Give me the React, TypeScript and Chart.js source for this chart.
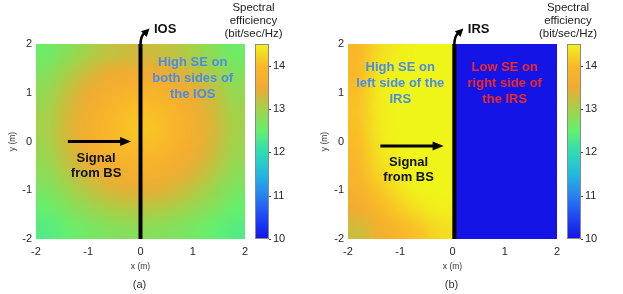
import React, { useEffect, useRef } from "react";
import { Chart, registerables } from "chart.js";
Chart.register(...registerables);

const FONT = '"Liberation Sans", Arial, Helvetica, sans-serif';

// axis ticks
const xTicks = [-2, -1, 0, 1, 2];
const yTicks = [-2, -1, 0, 1, 2];
const cbTicks = [10, 11, 12, 13, 14];

// heat-map cell centres (m)
const xCenters = [-1.8, -1.4, -1.0, -0.6, -0.2, 0.2, 0.6, 1.0, 1.4, 1.8];
const yCenters = [1.8, 1.4, 1.0, 0.6, 0.2, -0.2, -0.6, -1.0, -1.4, -1.8];
const xCentersLeft = [-1.8, -1.4, -1.0, -0.6, -0.2];
const xCentersRight = [0.2, 0.6, 1.0, 1.4, 1.8];

// (a) spectral efficiency with IOS (bit/sec/Hz), rows top -> bottom
const seIOS = [
  [12.58, 12.78, 13.0, 13.17, 13.27, 13.27, 13.17, 13.0, 12.78, 12.58],
  [12.74, 13.02, 13.28, 13.47, 13.57, 13.57, 13.47, 13.28, 13.02, 12.74],
  [12.87, 13.2, 13.48, 13.7, 13.83, 13.83, 13.7, 13.48, 13.2, 12.87],
  [12.97, 13.31, 13.62, 13.87, 14.05, 14.05, 13.87, 13.62, 13.31, 12.97],
  [12.99, 13.33, 13.65, 13.9, 14.1, 14.1, 13.9, 13.65, 13.33, 12.99],
  [12.93, 13.27, 13.57, 13.8, 13.97, 13.97, 13.8, 13.57, 13.27, 12.93],
  [12.82, 13.12, 13.39, 13.59, 13.72, 13.72, 13.59, 13.39, 13.12, 12.82],
  [12.68, 12.91, 13.14, 13.33, 13.43, 13.43, 13.33, 13.14, 12.91, 12.68],
  [12.5, 12.7, 12.86, 13.01, 13.09, 13.09, 13.01, 12.86, 12.7, 12.5],
  [12.36, 12.5, 12.63, 12.73, 12.78, 12.78, 12.73, 12.63, 12.5, 12.36],
];

// (b) spectral efficiency with IRS, left half (x < 0)
const seIRSLeft = [
  [13.95, 14.3, 14.45, 14.5, 14.5],
  [14.0, 14.38, 14.5, 14.5, 14.5],
  [14.05, 14.42, 14.5, 14.5, 14.5],
  [14.08, 14.42, 14.5, 14.5, 14.5],
  [14.05, 14.4, 14.5, 14.5, 14.5],
  [14.0, 14.35, 14.48, 14.5, 14.5],
  [13.9, 14.25, 14.45, 14.5, 14.5],
  [13.75, 14.1, 14.35, 14.48, 14.5],
  [13.55, 13.9, 14.15, 14.35, 14.45],
  [13.25, 13.65, 13.9, 14.1, 14.3],
];
// (b) right half (x > 0)
const seIRSRight = [
  [10, 10, 10, 10, 10],
  [10, 10, 10, 10, 10],
  [10, 10, 10, 10, 10],
  [10, 10, 10, 10, 10],
  [10, 10, 10, 10, 10],
  [10, 10, 10, 10, 10],
  [10, 10, 10, 10, 10],
  [10, 10, 10, 10, 10],
  [10, 10, 10, 10, 10],
  [10, 10, 10, 10, 10],
];

const CB_MIN = 10;
const CB_MAX = 14.5;

// colormap stops (value, r, g, b)
const cmapStops: [number, number, number, number][] = [
  [10.0, 20, 20, 230],
  [10.5, 30, 70, 245],
  [11.0, 40, 130, 240],
  [11.5, 35, 185, 225],
  [12.0, 45, 220, 180],
  [12.5, 100, 240, 110],
  [13.0, 165, 208, 72],
  [13.5, 240, 170, 50],
  [14.0, 250, 185, 40],
  [14.5, 240, 245, 25],
];

function cmap(v: number): [number, number, number] {
  const s = cmapStops;
  if (v <= s[0][0]) return [s[0][1], s[0][2], s[0][3]];
  for (let i = 1; i < s.length; i++) {
    if (v <= s[i][0]) {
      const t = (v - s[i - 1][0]) / (s[i][0] - s[i - 1][0]);
      return [
        Math.round(s[i - 1][1] + t * (s[i][1] - s[i - 1][1])),
        Math.round(s[i - 1][2] + t * (s[i][2] - s[i - 1][2])),
        Math.round(s[i - 1][3] + t * (s[i][3] - s[i - 1][3])),
      ];
    }
  }
  const l = s[s.length - 1];
  return [l[1], l[2], l[3]];
}

type Heat = { xs: number[]; ys: number[]; values: number[][] };

function heatDataset(h: Heat) {
  const pts: { x: number; y: number }[] = [];
  h.ys.forEach((yy) => h.xs.forEach((xx) => pts.push({ x: xx, y: yy })));
  return { data: pts, pointRadius: 0, showLine: false, heat: h } as any;
}

const heatmapPlugin = {
  id: "heatmap",
  beforeDatasetsDraw(chart: any) {
    const { ctx, scales } = chart;
    const xs = scales.x;
    const ys = scales.y;
    chart.data.datasets.forEach((ds: any) => {
      const h: Heat = ds.heat;
      if (!h) return;
      const nx = h.xs.length;
      const ny = h.ys.length;
      const off = document.createElement("canvas");
      off.width = nx + 2;
      off.height = ny + 2;
      const octx = off.getContext("2d")!;
      const img = octx.createImageData(nx + 2, ny + 2);
      for (let j = 0; j < ny + 2; j++) {
        for (let i = 0; i < nx + 2; i++) {
          const jj = Math.min(ny - 1, Math.max(0, j - 1));
          const ii = Math.min(nx - 1, Math.max(0, i - 1));
          const [r, g, b] = cmap(h.values[jj][ii]);
          const k = (j * (nx + 2) + i) * 4;
          img.data[k] = r;
          img.data[k + 1] = g;
          img.data[k + 2] = b;
          img.data[k + 3] = 255;
        }
      }
      octx.putImageData(img, 0, 0);
      const hw = Math.abs(h.xs[1] - h.xs[0]) / 2;
      const hh = Math.abs(h.ys[1] - h.ys[0]) / 2;
      const x0 = xs.getPixelForValue(h.xs[0] - hw);
      const x1 = xs.getPixelForValue(h.xs[nx - 1] + hw);
      const y0 = ys.getPixelForValue(h.ys[0] + hh);
      const y1 = ys.getPixelForValue(h.ys[ny - 1] - hh);
      ctx.save();
      ctx.imageSmoothingEnabled = true;
      ctx.imageSmoothingQuality = "high";
      ctx.drawImage(off, 1, 1, nx, ny, x0, y0, x1 - x0, y1 - y0);
      ctx.restore();
    });
  },
};

function arrowHead(ctx: CanvasRenderingContext2D, tx: number, ty: number, ang: number, len: number, wid: number) {
  ctx.beginPath();
  ctx.moveTo(tx, ty);
  ctx.lineTo(tx - len * Math.cos(ang) + (wid / 2) * Math.sin(ang), ty - len * Math.sin(ang) - (wid / 2) * Math.cos(ang));
  ctx.lineTo(tx - len * Math.cos(ang) - (wid / 2) * Math.sin(ang), ty - len * Math.sin(ang) + (wid / 2) * Math.cos(ang));
  ctx.closePath();
  ctx.fill();
}

type PanelCfg = {
  surfaceX: number;
  surfaceLabel: string;
  arrowFrom: [number, number];
  arrowTo: [number, number];
  signalAt: [number, number];
  notes: { x: number; y: number; lines: string[]; color: string }[];
  caption: string;
  cbTitleOffset: number;
};

const decorPlugin = {
  id: "decor",
  afterDatasetsDraw(chart: any) {
    const cfg: PanelCfg = chart.options.plugins.decor;
    const { ctx, scales, chartArea } = chart;
    const xs = scales.x;
    const ys = scales.y;
    const cb = scales.cb;

    // colorbar
    const bx0 = cb.left + 10;
    const bw = 14;
    const by0 = cb.getPixelForValue(CB_MAX);
    const by1 = cb.getPixelForValue(CB_MIN);
    const grad = ctx.createLinearGradient(0, by1, 0, by0);
    cmapStops.forEach((s) => {
      grad.addColorStop((s[0] - CB_MIN) / (CB_MAX - CB_MIN), `rgb(${s[1]},${s[2]},${s[3]})`);
    });
    ctx.save();
    ctx.fillStyle = grad;
    ctx.fillRect(bx0, by0, bw, by1 - by0);
    ctx.strokeStyle = "#8a8a8a";
    ctx.lineWidth = 1;
    ctx.strokeRect(bx0 + 0.5, by0 + 0.5, bw - 1, by1 - by0 - 1);
    ctx.strokeStyle = "#444";
    cbTicks.forEach((t) => {
      const py = Math.round(cb.getPixelForValue(t)) + 0.5;
      ctx.beginPath();
      ctx.moveTo(bx0 + bw, py);
      ctx.lineTo(bx0 + bw + 2, py);
      ctx.stroke();
    });
    ctx.restore();

    // surface line (IOS / IRS)
    const sx = xs.getPixelForValue(cfg.surfaceX);
    const top = ys.getPixelForValue(2);
    const bot = ys.getPixelForValue(-2);
    ctx.save();
    ctx.strokeStyle = "#000";
    ctx.fillStyle = "#000";
    ctx.lineWidth = 4;
    ctx.beginPath();
    ctx.moveTo(sx, bot);
    ctx.lineTo(sx, top);
    ctx.stroke();
    ctx.lineWidth = 2.5;
    ctx.beginPath();
    ctx.moveTo(sx, top + 1);
    ctx.quadraticCurveTo(sx, top - 8, sx + 4, top - 11);
    ctx.stroke();
    arrowHead(ctx, sx + 9, top - 15.5, -Math.PI / 4, 8, 8);

    // signal arrow
    const ax0 = xs.getPixelForValue(cfg.arrowFrom[0]);
    const ay0 = ys.getPixelForValue(cfg.arrowFrom[1]);
    const ax1 = xs.getPixelForValue(cfg.arrowTo[0]);
    const ay1 = ys.getPixelForValue(cfg.arrowTo[1]);
    ctx.lineWidth = 3;
    ctx.beginPath();
    ctx.moveTo(ax0, ay0);
    ctx.lineTo(ax1 - 9, ay1);
    ctx.stroke();
    arrowHead(ctx, ax1, ay1, 0, 11, 9);
    ctx.restore();

    // texts
    ctx.save();
    ctx.textBaseline = "middle";
    ctx.font = `bold 13px ${FONT}`;
    ctx.fillStyle = "#111";
    ctx.textAlign = "left";
    ctx.fillText(cfg.surfaceLabel, sx + 13.5, top - 14.5);
    ctx.textAlign = "center";
    const tx = xs.getPixelForValue(cfg.signalAt[0]);
    const ty = ys.getPixelForValue(cfg.signalAt[1]);
    ctx.fillText("Signal", tx, ty);
    ctx.fillText("from BS", tx, ty + 15.5);
    cfg.notes.forEach((n) => {
      ctx.fillStyle = n.color;
      const nx = xs.getPixelForValue(n.x);
      const ny = ys.getPixelForValue(n.y);
      n.lines.forEach((l, i) => ctx.fillText(l, nx, ny + i * 16));
    });

    // colorbar title
    ctx.font = `11.5px ${FONT}`;
    ctx.fillStyle = "#222";
    const cx = cb.left + cfg.cbTitleOffset;
    ["Spectral", "efficiency", "(bit/sec/Hz)"].forEach((l, i) => ctx.fillText(l, cx, chartArea.top - 36.5 + i * 13.3));

    // caption
    ctx.font = `11px ${FONT}`;
    ctx.fillStyle = "#333";
    ctx.fillText(cfg.caption, (chartArea.left + chartArea.right) / 2 - 1, chartArea.bottom + 45.5);
    ctx.restore();
  },
};

function makeConfig(datasets: any[], cfg: PanelCfg): any {
  const tickFont = { size: 11, family: FONT };
  return {
    type: "scatter",
    data: { datasets },
    plugins: [heatmapPlugin, decorPlugin],
    options: {
      responsive: false,
      animation: false,
      devicePixelRatio: 1,
      layout: { padding: { top: 44, left: 0, right: 0, bottom: 0 } },
      plugins: {
        legend: { display: false },
        tooltip: { enabled: false },
        title: { display: false },
        decor: cfg,
      },
      scales: {
        x: {
          type: "linear",
          position: "bottom",
          min: -2,
          max: 2,
          grid: { display: false, drawTicks: false },
          border: { display: false },
          ticks: { font: tickFont, color: "#262626", padding: 6, maxRotation: 0, autoSkip: false },
          afterBuildTicks: (s: any) => {
            s.ticks = xTicks.map((v) => ({ value: v }));
          },
          afterFit: (s: any) => {
            s.height = 55;
          },
          title: {
            display: true,
            text: "x (m)",
            font: { size: 8.5, family: FONT },
            color: "#333",
            padding: { top: 0, bottom: 22 },
          },
        },
        y: {
          type: "linear",
          position: "left",
          min: -2,
          max: 2,
          grid: { display: false, drawTicks: false },
          border: { display: false },
          ticks: { font: tickFont, color: "#262626", padding: 4, autoSkip: false },
          afterBuildTicks: (s: any) => {
            s.ticks = yTicks.map((v) => ({ value: v }));
          },
          afterFit: (s: any) => {
            s.width = 36;
          },
          title: {
            display: true,
            text: "y (m)",
            font: { size: 8.5, family: FONT },
            color: "#333",
            padding: { top: 8, bottom: 0 },
          },
        },
        cb: {
          type: "linear",
          position: "right",
          min: CB_MIN,
          max: CB_MAX,
          grid: { display: false, drawTicks: false },
          border: { display: false },
          ticks: { font: tickFont, color: "#262626", padding: 28, autoSkip: false },
          afterBuildTicks: (s: any) => {
            s.ticks = cbTicks.map((v) => ({ value: v }));
          },
          afterFit: (s: any) => {
            s.width = 66;
          },
        },
      },
    },
  };
}

const panelA: PanelCfg = {
  surfaceX: 0,
  surfaceLabel: "IOS",
  arrowFrom: [-1.39, 0],
  arrowTo: [-0.18, 0],
  signalAt: [-0.85, -0.34],
  notes: [{ x: 1.0, y: 1.62, lines: ["High SE on", "both sides of", "the IOS"], color: "#4a8de6" }],
  caption: "(a)",
  cbTitleOffset: 8.5,
};

const panelB: PanelCfg = {
  surfaceX: 0.035,
  surfaceLabel: "IRS",
  arrowFrom: [-1.38, -0.09],
  arrowTo: [-0.17, -0.09],
  signalAt: [-0.84, -0.42],
  notes: [
    { x: -1.0, y: 1.52, lines: ["High SE on", "left side of the", "IRS"], color: "#4a8de6" },
    { x: 1.0, y: 1.52, lines: ["Low SE on", "right side of", "the IRS"], color: "#f02828" },
  ],
  caption: "(b)",
  cbTitleOffset: 11,
};

function Panel({ datasets, cfg, left }: { datasets: any[]; cfg: PanelCfg; left: number }) {
  const ref = useRef<HTMLCanvasElement>(null);
  useEffect(() => {
    const chart = new Chart(ref.current!, makeConfig(datasets, cfg));
    return () => chart.destroy();
  }, []);
  return (
    <canvas
      ref={ref}
      width={311}
      height={294}
      style={{ position: "absolute", left, top: 0, width: 311, height: 294 }}
    />
  );
}

export default function App() {
  const dsA = [heatDataset({ xs: xCenters, ys: yCenters, values: seIOS })];
  const dsB = [
    heatDataset({ xs: xCentersLeft, ys: yCenters, values: seIRSLeft }),
    heatDataset({ xs: xCentersRight, ys: yCenters, values: seIRSRight }),
  ];
  return (
    <div style={{ position: "absolute", left: 0, top: 0, width: 623, height: 294, background: "#fff" }}>
      <Panel datasets={dsA} cfg={panelA} left={0} />
      <Panel datasets={dsB} cfg={panelB} left={312} />
    </div>
  );
}
